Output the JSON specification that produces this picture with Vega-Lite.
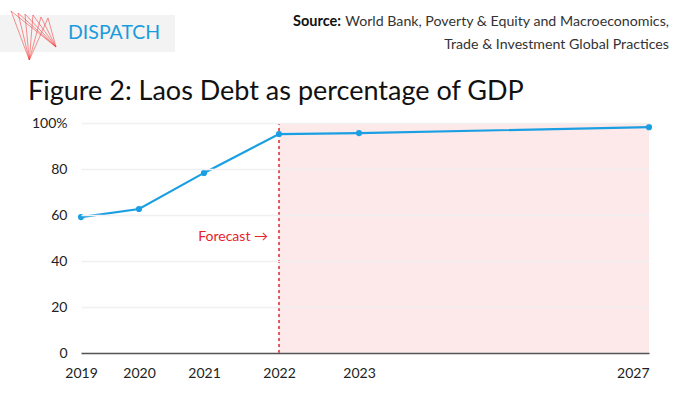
{
  "$schema": "https://vega.github.io/schema/vega-lite/v6.json",
  "width": 568,
  "height": 230,
  "autosize": {"type": "none"},
  "padding": {"left": 81, "top": 123, "right": 51, "bottom": 43},
  "background": "white",
  "config": {"view": {"stroke": null}, "font": "Lato"},
  "layer": [
    {
      "data": {"values": [{}]},
      "mark": {"type": "rect", "color": "#fde9ea"},
      "encoding": {
        "x": {
          "datum": 2022,
          "type": "quantitative",
          "scale": {"domain": [2019, 2020, 2021, 2022, 2023, 2027], "range": [0, 58, 123, 198, 278, 568], "zero": false, "nice": false},
          "axis": {
            "title": null,
            "values": [2019, 2020, 2021, 2022, 2023, 2027],
            "format": "d",
            "grid": false,
            "ticks": false,
            "domainColor": "#555555",
            "domainWidth": 1.5,
            "labelPadding": 13,
            "labelFontSize": 14,
            "labelColor": "#222222",
            "labelFont": "Lato",
            "labelAlign": {"condition": {"test": "datum.value == 2027", "value": "right"}, "value": "center"},
            "zindex": 1
          }
        },
        "x2": {"datum": 2027},
        "y": {
          "datum": 0,
          "type": "quantitative",
          "scale": {"domain": [0, 100], "nice": false},
          "axis": {
            "title": null,
            "values": [0, 20, 40, 60, 80, 100],
            "labelExpr": "datum.value == 100 ? '100%' : datum.label",
            "grid": true,
            "gridColor": "#f0f0f0",
            "gridWidth": 1.5,
            "domain": false,
            "ticks": false,
            "labelPadding": 14,
            "labelFontSize": 14,
            "labelColor": "#222222",
            "labelFont": "Lato",
            "zindex": 1
          }
        },
        "y2": {"datum": 100}
      }
    },
    {
      "data": {"values": [{}]},
      "mark": {"type": "rule", "color": "#e0262b", "strokeDash": [3, 3], "strokeWidth": 1.5},
      "encoding": {
        "x": {"datum": 2022, "type": "quantitative"},
        "y": {"datum": 0, "type": "quantitative"},
        "y2": {"datum": 100}
      }
    },
    {
      "data": {
        "values": [
          {"year": 2019, "debt": 59.1},
          {"year": 2020, "debt": 62.6},
          {"year": 2021, "debt": 78.3},
          {"year": 2022, "debt": 95.2},
          {"year": 2023, "debt": 95.6},
          {"year": 2027, "debt": 98.2}
        ]
      },
      "mark": {"type": "line", "color": "#1a9fe3", "strokeWidth": 2.2, "point": {"filled": true, "size": 38, "color": "#1a9fe3"}},
      "encoding": {
        "x": {"field": "year", "type": "quantitative"},
        "y": {"field": "debt", "type": "quantitative"}
      }
    },
    {
      "data": {"values": [{}]},
      "mark": {"type": "text", "text": "Forecast  →", "align": "right", "baseline": "middle", "dx": -11, "color": "#e8232a", "fontSize": 14, "font": "Lato"},
      "encoding": {
        "x": {"datum": 2022, "type": "quantitative"},
        "y": {"datum": 50.4, "type": "quantitative"}
      }
    },
    {
      "data": {"values": [{}]},
      "mark": {"type": "text", "text": "Figure 2: Laos Debt as percentage of GDP", "align": "left", "baseline": "alphabetic", "color": "#111111", "fontSize": 27, "font": "Lato", "clip": false},
      "encoding": {
        "x": {"datum": 2018.086, "type": "quantitative"},
        "y": {"datum": 110, "type": "quantitative"}
      }
    },
    {
      "data": {"values": [{}]},
      "mark": {"type": "rect", "color": "#f3f3f3", "clip": false},
      "encoding": {
        "x": {"datum": 2017.603, "type": "quantitative"},
        "x2": {"datum": 2020.554},
        "y": {"datum": 146.96, "type": "quantitative"},
        "y2": {"datum": 130.87}
      }
    },
    {"data": {"values": [{}]}, "mark": {"type": "rule", "color": "#f03a3a", "strokeWidth": 0.7, "opacity": 0.8, "clip": false}, "encoding": {"x": {"datum": 2017.793, "type": "quantitative"}, "y": {"datum": 148.70, "type": "quantitative"}, "x2": {"datum": 2018.109}, "y2": {"datum": 127.39}}},
    {"data": {"values": [{}]}, "mark": {"type": "rule", "color": "#f03a3a", "strokeWidth": 0.7, "opacity": 0.8, "clip": false}, "encoding": {"x": {"datum": 2017.914, "type": "quantitative"}, "y": {"datum": 147.83, "type": "quantitative"}, "x2": {"datum": 2018.109}, "y2": {"datum": 127.39}}},
    {"data": {"values": [{}]}, "mark": {"type": "rule", "color": "#f03a3a", "strokeWidth": 0.7, "opacity": 0.8, "clip": false}, "encoding": {"x": {"datum": 2018.034, "type": "quantitative"}, "y": {"datum": 147.39, "type": "quantitative"}, "x2": {"datum": 2018.109}, "y2": {"datum": 127.39}}},
    {"data": {"values": [{}]}, "mark": {"type": "rule", "color": "#f03a3a", "strokeWidth": 0.7, "opacity": 0.8, "clip": false}, "encoding": {"x": {"datum": 2018.172, "type": "quantitative"}, "y": {"datum": 146.96, "type": "quantitative"}, "x2": {"datum": 2018.109}, "y2": {"datum": 127.39}}},
    {"data": {"values": [{}]}, "mark": {"type": "rule", "color": "#f03a3a", "strokeWidth": 0.7, "opacity": 0.8, "clip": false}, "encoding": {"x": {"datum": 2018.310, "type": "quantitative"}, "y": {"datum": 146.09, "type": "quantitative"}, "x2": {"datum": 2018.109}, "y2": {"datum": 127.39}}},
    {"data": {"values": [{}]}, "mark": {"type": "rule", "color": "#f03a3a", "strokeWidth": 0.7, "opacity": 0.8, "clip": false}, "encoding": {"x": {"datum": 2018.431, "type": "quantitative"}, "y": {"datum": 145.65, "type": "quantitative"}, "x2": {"datum": 2018.109}, "y2": {"datum": 127.39}}},
    {"data": {"values": [{}]}, "mark": {"type": "rule", "color": "#f03a3a", "strokeWidth": 0.7, "opacity": 0.8, "clip": false}, "encoding": {"x": {"datum": 2017.793, "type": "quantitative"}, "y": {"datum": 148.70, "type": "quantitative"}, "x2": {"datum": 2018.569}, "y2": {"datum": 133.04}}},
    {"data": {"values": [{}]}, "mark": {"type": "rule", "color": "#f03a3a", "strokeWidth": 0.7, "opacity": 0.8, "clip": false}, "encoding": {"x": {"datum": 2017.914, "type": "quantitative"}, "y": {"datum": 147.83, "type": "quantitative"}, "x2": {"datum": 2018.569}, "y2": {"datum": 133.04}}},
    {"data": {"values": [{}]}, "mark": {"type": "rule", "color": "#f03a3a", "strokeWidth": 0.7, "opacity": 0.8, "clip": false}, "encoding": {"x": {"datum": 2018.034, "type": "quantitative"}, "y": {"datum": 147.39, "type": "quantitative"}, "x2": {"datum": 2018.569}, "y2": {"datum": 133.04}}},
    {"data": {"values": [{}]}, "mark": {"type": "rule", "color": "#f03a3a", "strokeWidth": 0.7, "opacity": 0.8, "clip": false}, "encoding": {"x": {"datum": 2018.172, "type": "quantitative"}, "y": {"datum": 146.96, "type": "quantitative"}, "x2": {"datum": 2018.569}, "y2": {"datum": 133.04}}},
    {"data": {"values": [{}]}, "mark": {"type": "rule", "color": "#f03a3a", "strokeWidth": 0.7, "opacity": 0.8, "clip": false}, "encoding": {"x": {"datum": 2018.310, "type": "quantitative"}, "y": {"datum": 146.09, "type": "quantitative"}, "x2": {"datum": 2018.569}, "y2": {"datum": 133.04}}},
    {"data": {"values": [{}]}, "mark": {"type": "rule", "color": "#f03a3a", "strokeWidth": 0.7, "opacity": 0.8, "clip": false}, "encoding": {"x": {"datum": 2018.431, "type": "quantitative"}, "y": {"datum": 145.65, "type": "quantitative"}, "x2": {"datum": 2018.569}, "y2": {"datum": 133.04}}},
    {
      "data": {"values": [{}]},
      "mark": {"type": "text", "text": "DISPATCH", "align": "left", "baseline": "middle", "color": "#1a9bdc", "fontSize": 19.5, "font": "Lato", "clip": false},
      "encoding": {
        "x": {"datum": 2018.776, "type": "quantitative"},
        "y": {"datum": 139.1, "type": "quantitative"}
      }
    },
    {
      "data": {"values": [{}]},
      "mark": {"type": "text", "text": "Source:", "align": "left", "baseline": "middle", "color": "#111111", "fontSize": 14.5, "fontWeight": "bold", "font": "Lato", "clip": false},
      "encoding": {
        "x": {"datum": 2022.175, "type": "quantitative"},
        "y": {"datum": 143.9, "type": "quantitative"}
      }
    },
    {
      "data": {"values": [{}]},
      "mark": {"type": "text", "text": "World Bank, Poverty & Equity and Macroeconomics,", "align": "right", "baseline": "middle", "dx": 20, "color": "#333333", "fontSize": 14.2, "font": "Lato", "clip": false},
      "encoding": {
        "x": {"datum": 2027, "type": "quantitative"},
        "y": {"datum": 143.9, "type": "quantitative"}
      }
    },
    {
      "data": {"values": [{}]},
      "mark": {"type": "text", "text": "Trade & Investment Global Practices", "align": "right", "baseline": "middle", "dx": 20, "color": "#333333", "fontSize": 14.2, "font": "Lato", "clip": false},
      "encoding": {
        "x": {"datum": 2027, "type": "quantitative"},
        "y": {"datum": 133.9, "type": "quantitative"}
      }
    }
  ]
}
